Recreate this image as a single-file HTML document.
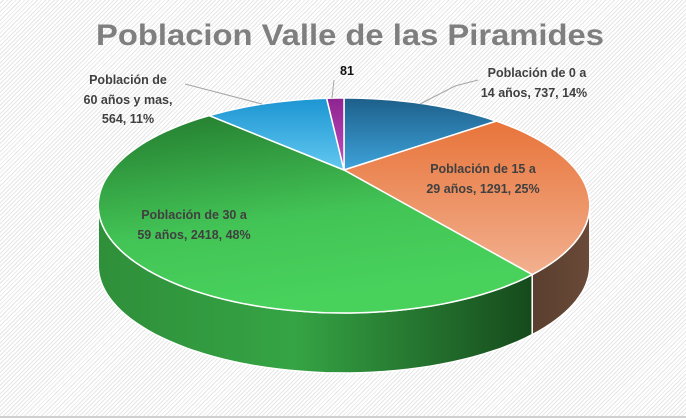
<!DOCTYPE html>
<html><head><meta charset="utf-8"><style>
html,body{margin:0;padding:0}
body{width:686px;height:418px;overflow:hidden;background:#fff;}
#bg{position:absolute;left:0;top:0;width:686px;height:416px;background:repeating-linear-gradient(135deg,#fff 0,#fff 2px,#e6e6e6 2px,#e6e6e6 3px);border-bottom:2px solid #d0d0d0}
svg{position:absolute;left:0;top:0}
text{font-family:"Liberation Sans",sans-serif}
</style></head><body>
<div id="bg"></div>
<svg id="chart" width="686" height="418">
<defs>
<linearGradient id="g0" x1="0" y1="0" x2="0" y2="1"><stop offset="0" stop-color="#1d5f8a"/><stop offset="1" stop-color="#3ea3da"/></linearGradient>
<linearGradient id="g1" x1="0" y1="0" x2="0" y2="1"><stop offset="0" stop-color="#e8743a"/><stop offset="1" stop-color="#f2b08f"/></linearGradient>
<linearGradient id="g2" x1="0" y1="0" x2="0.3" y2="1"><stop offset="0" stop-color="#237a2e"/><stop offset="0.6" stop-color="#43c456"/><stop offset="1" stop-color="#48d25c"/></linearGradient>
<linearGradient id="g3" x1="0" y1="0" x2="0" y2="1"><stop offset="0" stop-color="#1c95d2"/><stop offset="1" stop-color="#62c8f0"/></linearGradient>
<linearGradient id="g4" x1="0" y1="0" x2="0" y2="1"><stop offset="0" stop-color="#8e2490"/><stop offset="1" stop-color="#c050c0"/></linearGradient>
<linearGradient id="s2" x1="0" y1="0" x2="1" y2="0"><stop offset="0" stop-color="#2f8f3a"/><stop offset="0.45" stop-color="#35a444"/><stop offset="1" stop-color="#164a1c"/></linearGradient>
<linearGradient id="s1" x1="0" y1="0" x2="1" y2="0"><stop offset="0" stop-color="#5a3e2e"/><stop offset="1" stop-color="#6a4a38"/></linearGradient>
<linearGradient id="s0" x1="0" y1="0" x2="1" y2="0"><stop offset="0" stop-color="#15445f"/><stop offset="1" stop-color="#15445f"/></linearGradient>
<linearGradient id="s3" x1="0" y1="0" x2="1" y2="0"><stop offset="0" stop-color="#146a96"/><stop offset="1" stop-color="#146a96"/></linearGradient>
<linearGradient id="s4" x1="0" y1="0" x2="1" y2="0"><stop offset="0" stop-color="#6a1a6a"/><stop offset="1" stop-color="#6a1a6a"/></linearGradient>
</defs>
<text x="350" y="45" text-anchor="middle" font-size="30" font-weight="bold" fill="#7f7f7f" textLength="508" lengthAdjust="spacingAndGlyphs">Poblacion Valle de las Piramides</text>
<g id="sides"></g>
<g id="tops"></g>
<g fill="none" stroke="#a6a6a6" stroke-width="1">
<polyline points="478,80 455,86 420,104"/>
<polyline points="185,84 262,104"/>
<polyline points="334,80 332,98"/>
</g>
<g font-size="12.5" font-weight="bold" fill="#404040" text-anchor="middle">
<text x="537" y="77">Población de 0 a</text>
<text x="534" y="97">14 años, 737, 14%</text>
<text x="483" y="173">Población de 15 a</text>
<text x="483" y="193">29 años, 1291, 25%</text>
<text x="194" y="219">Población de 30 a</text>
<text x="194" y="239">59 años, 2418, 48%</text>
<text x="128" y="84">Población de</text>
<text x="128" y="104">60 años y mas,</text>
<text x="128" y="123">564, 11%</text>
<text x="347" y="75" fill="#111">81</text>
</g>
</svg>
<script>
const categories = ["Población de 0 a 14 años","Población de 15 a 29 años","Población de 30 a 59 años","Población de 60 años y mas","Otros"];
const values = [737,1291,2418,564,81];
const NS="http://www.w3.org/2000/svg";
// perspective projection of a tilted disc
const X0=344, Y0=170, A=232, B=95.8, P=-0.33, depth=60;
const total=values.reduce((a,b)=>a+b,0);
function pt(deg,dy){const t=deg*Math.PI/180;const u=Math.sin(t), v=-Math.cos(t);const w=1+P*v;return [X0+A*u/w, Y0+B*v/w+(dy||0)];}
function arc(a,b,dy){const pts=[];const n=Math.max(2,Math.ceil(Math.abs(b-a)/2));for(let i=0;i<=n;i++){pts.push(pt(a+(b-a)*i/n,dy));}return pts;}
const visA=Math.acos(P)*180/Math.PI, visB=360-visA;
const sides=document.getElementById('sides'), tops=document.getElementById('tops');
let cum=0;
values.forEach((v,i)=>{
  const a=cum/total*360, b=(cum+v)/total*360; cum+=v;
  const sa=Math.max(a,visA), sb=Math.min(b,visB);
  if(sb>sa){
    const top=arc(sa,sb,0), bot=arc(sb,sa,depth);
    const p=document.createElementNS(NS,'path');
    p.setAttribute('d','M'+top.concat(bot).map(q=>q[0].toFixed(1)+','+q[1].toFixed(1)).join('L')+'Z');
    p.setAttribute('fill','url(#s'+i+')');p.setAttribute('stroke','#fff');p.setAttribute('stroke-width','1.5');
    
    
    sides.appendChild(p);
  }
  const pts=[[X0,Y0]].concat(arc(a,b,0));
  const t=document.createElementNS(NS,'path');
  t.setAttribute('d','M'+pts.map(q=>q[0].toFixed(1)+','+q[1].toFixed(1)).join('L')+'Z');
  t.setAttribute('fill','url(#g'+i+')');t.setAttribute('stroke','#fff');t.setAttribute('stroke-width','1.5');
  
  
  tops.appendChild(t);
});
</script>
</body></html>
